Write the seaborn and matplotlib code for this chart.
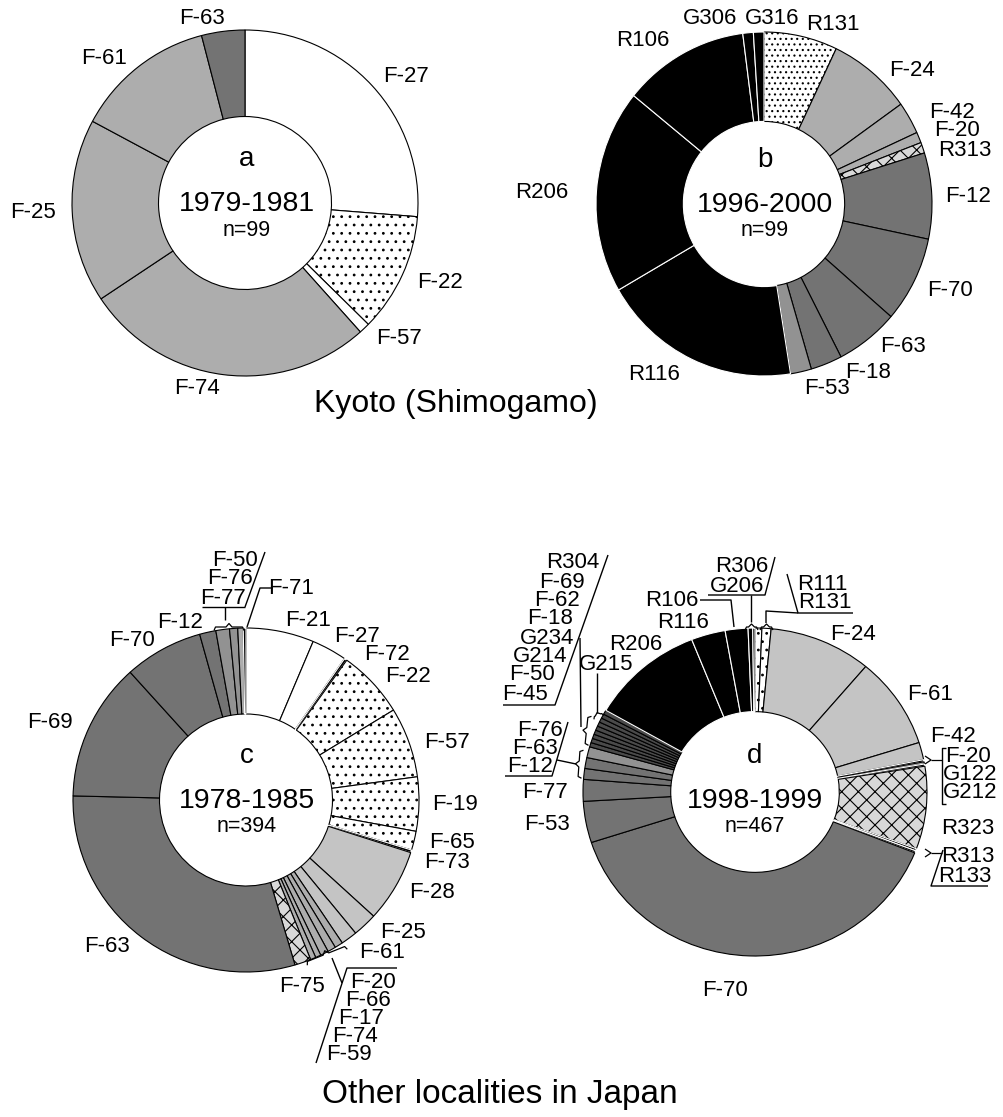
import numpy as np
import matplotlib
matplotlib.use("Agg")
import matplotlib.pyplot as plt
import seaborn as sns

# ---------------- data (counts) ----------------
a_labels = ["F-27", "F-22", "F-57", "F-74", "F-25", "F-61", "F-63"]
a_counts = [26, 11, 1, 27, 17, 13, 4]
a_tones = ["white", "dots", "white", "light", "light", "light", "dark"]

b_labels = ["R131", "F-24", "F-42", "F-20", "R313", "F-12", "F-70", "F-63",
            "F-18", "F-53", "R116", "R206", "R106", "G306", "G316"]
b_counts = [7, 8, 3, 1, 1, 8, 8, 6, 3, 2, 19, 19, 12, 1, 1]
b_tones = ["dots2", "light", "light", "light", "cross", "dark", "dark", "dark",
           "dark", "mid", "black", "black", "black", "black", "black"]

c_labels = ["F-21", "F-27", "F-72", "F-22", "F-57", "F-19", "F-65", "F-73",
            "F-28", "F-25", "F-61", "F-20", "F-66", "F-17", "F-74", "F-59",
            "F-75", "F-63", "F-69", "F-70", "F-12", "F-50", "F-76", "F-77", "F-71"]
c_counts = [25, 13, 1, 25, 26, 20, 7, 1, 27, 9, 6, 3, 3, 3, 2, 2, 6, 118, 51,
            29, 6, 5, 3, 2, 1]
c_tones = ["white", "white", "black", "dots", "dots", "dots", "dots", "black",
           "pale", "pale", "pale", "light", "light", "light", "light", "light",
           "cross", "dark", "dark", "dark", "dark", "mid", "mid", "light", "black"]

d_labels = ["R111", "R131", "F-24", "F-61", "F-42", "F-20", "G122", "G212",
            "R323", "R313", "R133", "F-70", "F-53", "F-77", "F-12", "F-63",
            "F-76", "F-45", "F-50", "G214", "G234", "F-18", "F-62", "F-69",
            "R304", "G215", "R206", "R116", "R106", "G206", "R306"]
d_counts = [3, 4, 45, 42, 8, 1, 1, 1, 38, 1, 1, 182, 19, 10, 5, 5, 5, 2, 2, 2,
            2, 2, 2, 2, 2, 2, 50, 15, 10, 2, 1]
d_tones = ["dots", "dots", "pale", "pale", "pale", "black", "light", "black",
           "cross", "black", "black", "dark", "dark", "dark", "dark", "dark",
           "mid", "dotdark", "dotdark", "dotdark", "dotdark", "dotdark",
           "dotdark", "dotdark", "dotdark", "dotdark", "black", "black",
           "black", "black", "black"]

panel_info = {
    "a": ("1979-1981", 99),
    "b": ("1996-2000", 99),
    "c": ("1978-1985", 394),
    "d": ("1998-1999", 467),
}
group_titles = ["Kyoto (Shimogamo)", "Other localities in Japan"]

# ---------------- style ----------------
sns.set_theme(style="white")
plt.rcParams["font.family"] = ["Liberation Sans", "DejaVu Sans"]
plt.rcParams["hatch.linewidth"] = 0.8

TONES = {
    "white":   dict(fc="white",   ec="black", hatch=None),
    "dots":    dict(fc="white",   ec="black", hatch=".."),
    "dots2":   dict(fc="white",   ec="black", hatch="..."),
    "pale":    dict(fc="#c4c4c4", ec="black", hatch=None),
    "light":   dict(fc="#adadad", ec="black", hatch=None),
    "mid":     dict(fc="#929292", ec="black", hatch=None),
    "dark":    dict(fc="#737373", ec="black", hatch=None),
    "dotdark": dict(fc="#4a4a4a", ec="black", hatch=None),
    "cross":   dict(fc="#d8d8d8", ec="black", hatch="xx"),
    "black":   dict(fc="black",   ec="white", hatch=None),
}

W, H = 1004, 1117
fig = plt.figure(figsize=(W / 100, H / 100), dpi=100)
fig.patch.set_facecolor("white")

PAD = 1.04


def donut(cx, cy, rx, ry, counts, tones, width):
    ax = fig.add_axes([(cx - rx * PAD) / W, 1 - (cy + ry * PAD) / H,
                       2 * rx * PAD / W, 2 * ry * PAD / H])
    wedges, _ = ax.pie(counts, startangle=90, counterclock=False, radius=1,
                       wedgeprops=dict(width=width, linewidth=0.8))
    ax.set_aspect("auto")
    ax.set_xlim(-PAD, PAD)
    ax.set_ylim(-PAD, PAD)
    ax.axis("off")
    for w, t in zip(wedges, tones):
        st = TONES[t]
        w.set_facecolor(st["fc"])
        w.set_edgecolor(st["ec"])
        if st["hatch"]:
            w.set_hatch(st["hatch"])
    return ax


donut(245, 203, 173, 173, a_counts, a_tones, 0.50)
donut(764, 204, 168, 172, b_counts, b_tones, 0.52)
donut(246, 800, 173, 172, c_counts, c_tones, 0.50)
donut(755, 792, 172, 164, d_counts, d_tones, 0.51)

# ---------------- overlay for texts / leaders (pixel coordinates) ----------------
ov = fig.add_axes([0, 0, 1, 1])
ov.set_xlim(0, W)
ov.set_ylim(H, 0)
ov.axis("off")

LFS = 16


def lab(txt, x, y, fs=LFS, **kw):
    ov.text(x, y, txt, fontsize=fs, ha="center", va="center", color="black", **kw)


def line(pts, lw=1.0):
    p = np.array(pts, dtype=float)
    ov.plot(p[:, 0], p[:, 1], color="black", lw=lw, solid_capstyle="butt")


def brace(p1, p2, d=3.5):
    p1 = np.array(p1, float)
    p2 = np.array(p2, float)
    u = (p2 - p1) / np.linalg.norm(p2 - p1)
    n = np.array([u[1], -u[0]])
    m = (p1 + p2) / 2
    pts = [p1 - n * d, p1 + u * 1.5, m - u * 3, m + n * d, m + u * 3, p2 - u * 1.5, p2 - n * d]
    line(pts, lw=0.9)


# centre texts
centres = {"a": (247, 203), "b": (765, 204), "c": (247, 800), "d": (755, 800)}
for key, (cx, cy) in centres.items():
    yr, n = panel_info[key]
    lab(key, cx, cy - 44, fs=20)
    lab(yr, cx, cy + 1, fs=20.5)
    lab(f"n={n}", cx, cy + 27, fs=15.5)

# panel a labels
a_pos = {"F-27": (406, 77), "F-22": (440, 282), "F-57": (399, 338),
         "F-74": (197, 388), "F-25": (33, 213), "F-61": (104, 58),
         "F-63": (202, 18)}
for t in a_labels:
    lab(t, *a_pos[t])

# panel b labels
b_pos = {"G306": (710, 18), "G316": (772, 18), "R131": (833, 25),
         "R106": (643, 40), "F-24": (912, 70), "F-42": (952, 113),
         "F-20": (957, 130), "R313": (965, 150), "R206": (542, 192),
         "F-12": (968, 197), "F-70": (950, 290), "F-63": (903, 347),
         "F-18": (868, 372), "F-53": (827, 388), "R116": (654, 375)}
for t in b_labels:
    lab(t, *b_pos[t])

# panel c labels
c_pos = {"F-50": (235, 560), "F-76": (230, 579), "F-77": (223, 598),
         "F-71": (291, 589), "F-12": (180, 622), "F-70": (132, 640),
         "F-21": (308, 620), "F-27": (357, 637), "F-72": (387, 655),
         "F-22": (408, 677), "F-69": (50, 723), "F-57": (447, 742),
         "F-19": (455, 805), "F-65": (452, 843), "F-73": (447, 862),
         "F-28": (432, 893), "F-25": (403, 933), "F-61": (382, 953),
         "F-63": (107, 947), "F-75": (302, 987), "F-20": (373, 982),
         "F-66": (368, 1000), "F-17": (361, 1018), "F-74": (355, 1037),
         "F-59": (349, 1055)}
for t in c_labels:
    lab(t, *c_pos[t])

line([(265, 552), (245, 607)])
line([(202, 607), (245, 607)])
line([(225, 607), (225, 620)])
brace((214, 627), (244, 627))
line([(273, 588), (260, 588), (247, 627)])
line([(397, 968), (347, 968), (316, 1063)])
line([(332, 958), (342, 983)])
brace((306, 962), (346, 946))

# panel d labels
d_pos = {"R304": (573, 563), "F-69": (562, 582), "F-62": (557, 600),
         "F-18": (550, 618), "G234": (547, 638), "G214": (540, 657),
         "F-50": (532, 675), "F-45": (525, 694), "R306": (742, 567),
         "G206": (737, 586), "R111": (822, 585), "R131": (825, 603),
         "R106": (672, 601), "R116": (683, 623), "F-24": (853, 635),
         "R206": (636, 645), "G215": (606, 664), "F-61": (930, 695),
         "F-76": (540, 730), "F-63": (535, 748), "F-12": (530, 767),
         "F-42": (953, 736), "F-20": (968, 757), "G122": (970, 775),
         "G212": (970, 793), "F-77": (545, 793), "F-53": (547, 825),
         "R323": (968, 828), "R313": (968, 857), "R133": (965, 876),
         "F-70": (725, 990)}
for t in d_labels:
    lab(t, *d_pos[t])

# upper left list
line([(503, 705), (555, 705), (608, 555)])
line([(580, 638), (581, 727)])
brace((585, 745), (588, 716))
# lower left list
line([(505, 776), (552, 776), (568, 722)])
line([(557, 760), (576, 764)])
brace((578, 778), (580, 750))
# G215
line([(597, 673), (597, 713)])
brace((593, 717), (603, 713), d=2.5)
# R106
line([(700, 600), (731, 600), (734, 627)])
# R306 / G206
line([(708, 595), (765, 595), (775, 557)])
line([(751, 595), (751, 622)])
brace((745, 627), (758, 627), d=3)
# R111 / R131
line([(787, 574), (798, 613), (853, 613)])
line([(766, 623), (766, 611), (798, 613)])
brace((760, 627), (773, 627), d=3)
# right side, F-20 / G122 / G212
line([(946, 748), (942, 748), (942, 804), (946, 804)])
line([(925, 756), (931, 760), (925, 764)], lw=0.9)
line([(931, 760), (942, 760)], lw=0.9)
# R313 / R133
line([(925, 849), (931, 853), (925, 857)], lw=0.9)
line([(931, 853), (942, 853)], lw=0.9)
line([(943, 850), (931, 886), (988, 886)])

# group titles
lab(group_titles[0], 456, 404, fs=23)
lab(group_titles[1], 500, 1094, fs=24)

fig.savefig("out.png", dpi=100, facecolor="white")
